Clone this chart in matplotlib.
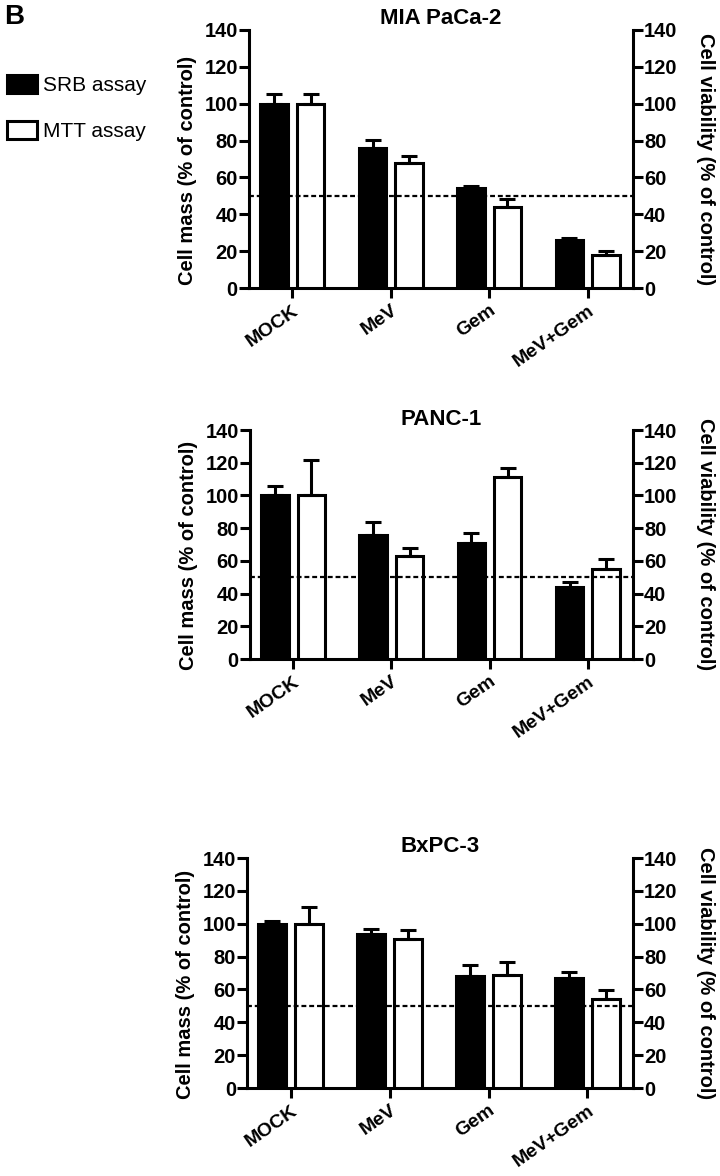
import matplotlib
matplotlib.use("Agg")
import matplotlib.pyplot as plt
from matplotlib.patches import Patch
import numpy as np

plt.rcParams['font.family'] = ['Liberation Sans', 'DejaVu Sans']
plt.rcParams['font.weight'] = 'bold'

categories = ["MOCK", "MeV", "Gem", "MeV+Gem"]
panel_titles = ["MIA PaCa-2", "PANC-1", "BxPC-3"]

# SRB assay (cell mass) means and upper errors
srb_mia = [100, 76, 54.5, 26]
srb_mia_err = [5.5, 4.5, 1, 1]
srb_panc = [100, 76, 71, 44]
srb_panc_err = [6, 8, 6, 3]
srb_bx = [100, 94, 68, 67]
srb_bx_err = [1.5, 2.5, 7, 3.5]

# MTT assay (cell viability) means and upper errors
mtt_mia = [100, 68, 44, 18]
mtt_mia_err = [5, 3.5, 4.5, 2]
mtt_panc = [100, 63, 111, 55]
mtt_panc_err = [22, 5, 6, 6]
mtt_bx = [100, 91, 69, 54]
mtt_bx_err = [10, 5, 8, 5.5]

yticks = [0, 20, 40, 60, 80, 100, 120, 140]

fig = plt.figure(figsize=(7.2, 11.76), dpi=100)

# axes boxes (left, bottom, width, height) in figure fraction
boxes = [
    [0.3458, 0.7551, 0.5333, 0.2194],
    [0.3472, 0.4396, 0.5319, 0.1947],
    [0.3431, 0.0748, 0.5361, 0.1956],
]
panels = [
    (srb_mia, srb_mia_err, mtt_mia, mtt_mia_err),
    (srb_panc, srb_panc_err, mtt_panc, mtt_panc_err),
    (srb_bx, srb_bx_err, mtt_bx, mtt_bx_err),
]

lw = 2.2
fs = 14.5
x = np.arange(len(categories))
width = 0.28
off = 0.185

for box, title, (srb, srb_e, mtt, mtt_e) in zip(boxes, panel_titles, panels):
    ax = fig.add_axes(box)
    err_kw = dict(elinewidth=lw, capthick=lw, capsize=5.5, ecolor='black')
    ax.bar(x - off, srb, width, color='black', edgecolor='black', linewidth=lw,
           yerr=[np.zeros(4), srb_e], error_kw=err_kw, zorder=3)
    ax.bar(x + off, mtt, width, color='white', edgecolor='black', linewidth=lw,
           yerr=[np.zeros(4), mtt_e], error_kw=err_kw, zorder=3)
    ax.axhline(50, color='black', linestyle=(0, (2.2, 1.3)), linewidth=1.6, zorder=4)

    ax.set_xlim(-0.44, 3.46)
    ax.set_ylim(0, 140)
    ax.set_yticks(yticks)
    ax.set_xticks(x)
    ax.set_xticklabels(categories, rotation=35, ha='right', rotation_mode='anchor',
                       fontsize=14, fontweight='bold')
    ax.tick_params(axis='both', width=lw, length=7, labelsize=fs, pad=1)
    ax.tick_params(axis='x', pad=3, labelsize=14)
    for lab in ax.get_yticklabels():
        lab.set_fontweight('bold')
    ax.spines['top'].set_visible(False)
    ax.spines['right'].set_visible(False)
    ax.spines['left'].set_linewidth(lw)
    ax.spines['bottom'].set_linewidth(lw)
    ax.set_ylabel("Cell mass (% of control)", fontsize=fs, fontweight='bold', labelpad=5)
    # label sits a little below the axis centre in the original
    h_px = box[3] * 1176
    ax.yaxis.label.set_y(0.5 - 11 / h_px)
    ax.set_title(title, fontsize=16, fontweight='bold', pad=4)

    ax2 = ax.twinx()
    ax2.set_ylim(0, 140)
    ax2.set_yticks(yticks)
    ax2.tick_params(axis='y', width=lw, length=7, labelsize=fs, pad=1)
    for lab in ax2.get_yticklabels():
        lab.set_fontweight('bold')
    for s in ['top', 'left', 'bottom']:
        ax2.spines[s].set_visible(False)
    ax2.spines['right'].set_linewidth(lw)
    ax2.set_ylabel("Cell viability (% of control)", fontsize=fs, fontweight='bold',
                   rotation=-90, labelpad=27)

fig.text(0.006, 0.997, "B", fontsize=20, fontweight='bold', va='top', ha='left')

handles = [Patch(facecolor='black', edgecolor='black', linewidth=lw, label='SRB assay'),
           Patch(facecolor='white', edgecolor='black', linewidth=lw, label='MTT assay')]
leg = fig.legend(handles=handles, loc='upper left', bbox_to_anchor=(-0.008, 0.947),
                 frameon=False, prop={'size': 15, 'weight': 'normal'},
                 handlelength=1.45, handleheight=0.95, labelspacing=1.25,
                 handletextpad=0.3, borderaxespad=0.2)

fig.savefig("out.png", dpi=100)
